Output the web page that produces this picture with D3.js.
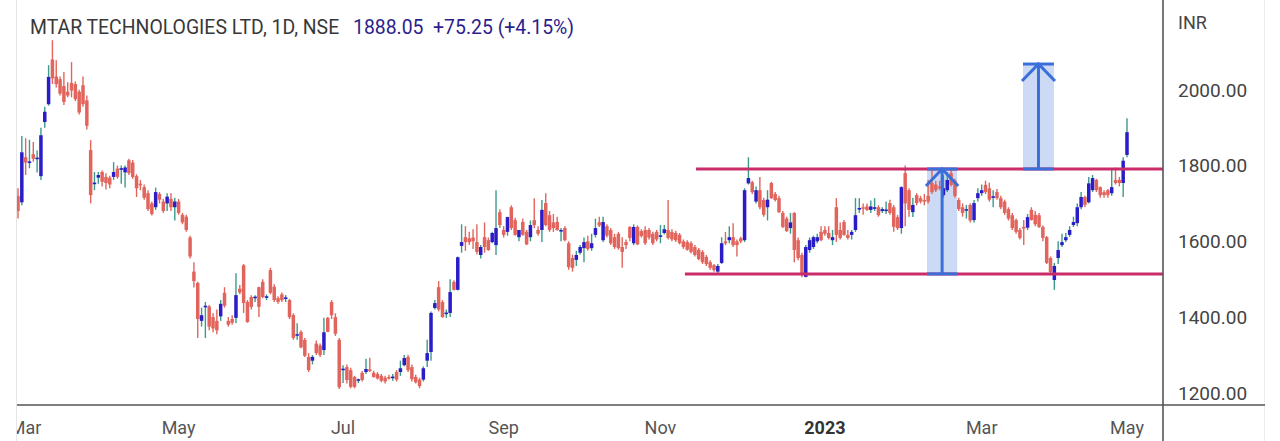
<!DOCTYPE html>
<html><head><meta charset="utf-8">
<script src="https://cdn.jsdelivr.net/npm/d3@7"></script>
<style>html,body{margin:0;padding:0;background:#fff;overflow:hidden}svg{display:block}text{font-family:Roboto,"Noto Sans",sans-serif}</style>
</head><body><svg id="c" width="1280" height="441"></svg>
<script>
const opens=[1720,1703,1822,1808,1830,1818,1772,1915,1962,2080,2035,2028,2010,1995,2018,2015,1995,2012,1972,1841,1752,1768,1783,1770,1768,1770,1792,1790,1782,1814,1808,1772,1752,1743,1727,1700,1690,1725,1705,1700,1712,1690,1705,1670,1665,1610,1520,1490,1390,1427,1428,1400,1390,1402,1464,1390,1395,1398,1475,1537,1440,1453,1450,1479,1493,1453,1524,1480,1450,1460,1450,1445,1405,1353,1361,1340,1295,1285,1330,1325,1313,1398,1440,1400,1340,1262,1268,1260,1242,1232,1253,1255,1262,1253,1250,1245,1240,1242,1240,1255,1255,1273,1295,1268,1242,1235,1235,1285,1308,1424,1479,1440,1410,1411,1493,1472,1588,1611,1608,1610,1598,1564,1611,1603,1598,1590,1677,1630,1625,1690,1656,1611,1651,1625,1611,1656,1630,1630,1701,1669,1650,1651,1627,1635,1595,1556,1551,1570,1582,1600,1582,1617,1650,1603,1640,1630,1611,1620,1585,1598,1638,1595,1638,1627,1630,1630,1620,1625,1614,1622,1630,1625,1622,1617,1600,1598,1595,1585,1578,1572,1559,1545,1537,1520,1543,1600,1603,1611,1600,1608,1603,1753,1756,1705,1735,1709,1690,1754,1725,1714,1675,1660,1635,1675,1603,1564,1506,1577,1585,1600,1625,1630,1622,1603,1690,1630,1651,1617,1617,1630,1685,1690,1692,1683,1688,1690,1680,1682,1701,1690,1664,1635,1780,1735,1677,1722,1714,1709,1720,1754,1750,1745,1722,1735,1780,1760,1709,1690,1683,1696,1656,1714,1727,1749,1740,1717,1730,1714,1705,1685,1669,1656,1630,1638,1636,1683,1670,1669,1638,1611,1556,1498,1556,1590,1603,1617,1643,1648,1690,1717,1703,1735,1762,1743,1730,1735,1727,1762,1762,1754,1828];
const highs=[1740,1878,1872,1868,1862,1840,1900,1955,2065,2131,2078,2035,2047,2020,2073,2022,2000,2035,1985,1867,1783,1783,1787,1780,1773,1809,1800,1800,1800,1818,1815,1777,1762,1750,1735,1705,1742,1730,1712,1727,1727,1715,1712,1675,1670,1615,1545,1493,1425,1440,1432,1410,1420,1445,1479,1400,1405,1516,1485,1540,1445,1458,1458,1480,1500,1460,1530,1487,1455,1465,1458,1448,1410,1384,1365,1345,1305,1300,1338,1330,1398,1400,1445,1410,1345,1273,1275,1266,1245,1238,1258,1290,1293,1258,1255,1250,1245,1248,1250,1260,1285,1300,1300,1275,1248,1240,1270,1340,1415,1445,1495,1445,1420,1500,1497,1560,1645,1640,1625,1632,1645,1590,1650,1610,1625,1735,1685,1640,1665,1695,1662,1630,1660,1630,1655,1714,1640,1709,1727,1680,1672,1665,1635,1640,1600,1565,1575,1590,1610,1615,1620,1660,1665,1665,1645,1635,1620,1625,1611,1605,1640,1645,1642,1632,1640,1635,1625,1630,1643,1643,1709,1632,1628,1622,1605,1603,1600,1590,1582,1577,1564,1550,1540,1540,1611,1625,1640,1648,1605,1612,1740,1822,1760,1745,1770,1715,1735,1757,1730,1720,1680,1665,1675,1677,1610,1570,1590,1610,1615,1620,1640,1640,1640,1630,1714,1650,1656,1630,1630,1714,1714,1700,1700,1708,1714,1695,1690,1705,1710,1696,1670,1745,1800,1740,1715,1727,1720,1725,1762,1788,1760,1760,1775,1783,1788,1765,1715,1700,1696,1700,1709,1740,1750,1760,1755,1735,1738,1720,1710,1690,1675,1660,1635,1656,1672,1690,1680,1675,1642,1614,1560,1543,1600,1620,1622,1640,1665,1700,1730,1720,1770,1775,1765,1745,1735,1738,1790,1795,1770,1822,1925];
const lows=[1660,1695,1775,1793,1810,1782,1762,1900,1958,2015,2006,1985,1960,1980,1980,1970,1935,1955,1895,1700,1735,1752,1745,1737,1740,1762,1765,1752,1742,1775,1765,1717,1735,1710,1680,1668,1683,1700,1675,1680,1680,1655,1670,1645,1625,1555,1478,1345,1375,1345,1365,1360,1355,1390,1425,1375,1380,1384,1460,1411,1385,1420,1440,1400,1450,1445,1460,1440,1435,1440,1440,1395,1340,1340,1318,1295,1255,1275,1300,1295,1300,1360,1395,1350,1210,1226,1225,1212,1212,1226,1230,1250,1255,1240,1235,1228,1225,1235,1232,1230,1245,1270,1255,1230,1225,1212,1230,1268,1285,1420,1415,1398,1398,1400,1470,1470,1570,1575,1590,1580,1565,1555,1570,1575,1595,1564,1635,1610,1615,1630,1615,1600,1615,1590,1600,1635,1615,1598,1640,1625,1625,1628,1600,1600,1525,1520,1535,1565,1545,1575,1575,1610,1638,1598,1610,1590,1580,1578,1530,1580,1600,1590,1590,1610,1590,1605,1590,1600,1595,1618,1605,1600,1598,1592,1580,1575,1568,1560,1550,1540,1535,1525,1520,1513,1540,1590,1595,1585,1560,1595,1598,1750,1725,1700,1685,1665,1655,1712,1705,1675,1635,1625,1620,1545,1550,1505,1505,1570,1580,1595,1600,1615,1605,1590,1598,1605,1615,1605,1605,1625,1675,1670,1680,1675,1680,1665,1675,1672,1670,1625,1630,1620,1640,1665,1664,1695,1700,1695,1700,1725,1730,1735,1715,1730,1745,1715,1680,1665,1660,1650,1650,1705,1720,1725,1705,1690,1710,1685,1670,1655,1630,1620,1605,1590,1630,1655,1640,1635,1600,1540,1515,1472,1540,1585,1598,1612,1638,1640,1685,1690,1700,1730,1730,1715,1715,1715,1720,1750,1745,1717,1822];
const closes=[1680,1835,1808,1811,1818,1821,1880,1942,2034,2030,2015,1990,1968,1985,1998,1975,1940,1962,1905,1722,1755,1775,1757,1754,1750,1783,1770,1793,1795,1780,1770,1740,1750,1715,1685,1672,1730,1710,1680,1718,1690,1705,1675,1650,1630,1560,1495,1395,1405,1430,1375,1370,1365,1435,1430,1380,1385,1458,1465,1437,1387,1427,1454,1427,1453,1455,1464,1445,1440,1445,1452,1400,1345,1355,1320,1298,1260,1295,1305,1300,1360,1361,1405,1356,1215,1264,1234,1216,1216,1236,1234,1263,1258,1242,1238,1232,1230,1241,1243,1235,1265,1292,1260,1236,1228,1218,1265,1305,1411,1437,1420,1400,1412,1466,1472,1558,1598,1598,1598,1600,1572,1585,1585,1577,1622,1635,1643,1617,1664,1635,1617,1630,1617,1592,1643,1643,1620,1683,1643,1630,1635,1630,1630,1603,1532,1530,1564,1585,1598,1580,1595,1635,1642,1651,1615,1595,1585,1582,1572,1590,1609,1638,1592,1614,1595,1610,1595,1605,1616,1632,1609,1605,1603,1595,1585,1578,1572,1564,1553,1545,1540,1530,1524,1535,1595,1595,1611,1590,1590,1600,1735,1767,1730,1735,1690,1670,1710,1714,1709,1677,1638,1627,1650,1577,1556,1516,1585,1603,1611,1611,1603,1620,1609,1611,1617,1609,1617,1609,1625,1669,1688,1688,1683,1692,1690,1669,1685,1684,1675,1638,1635,1743,1700,1683,1696,1701,1705,1707,1705,1730,1735,1740,1740,1762,1749,1720,1685,1675,1685,1655,1701,1727,1735,1730,1710,1719,1714,1690,1675,1660,1635,1625,1609,1636,1664,1656,1645,1638,1609,1543,1519,1535,1577,1598,1611,1630,1651,1690,1717,1696,1753,1767,1735,1722,1722,1722,1743,1754,1754,1812.8,1888.05];

const tickIdx=[2,42,85,127,168,211,252,290];
const tickLab=["Mar","May","Jul","Sep","Nov","2023","Mar","May"];
const yTicks=[1200,1400,1600,1800,2000];
const levelVals=[1791,1514];
const levelFrom=[177.3,174.4];
const boxFrom=[237.7,262.8];
const boxTo=[245.6,270.9];
const boxLo=[1514,1791];
const boxHi=[1791,2068];
const titleText="MTAR TECHNOLOGIES LTD, 1D, NSE";
const lastPrice=1888.05, prevClose=1812.8;

const W=1280,H=441, L=17, R=1163, B=405;
const svg=d3.select("#c");
const x=d3.scaleLinear().domain([0,opens.length-1]).range([18,1127]);
const y=d3.scaleLinear().domain([1168,2237]).range([B,0]);

const defs=svg.append("defs");
defs.append("clipPath").attr("id","pc").append("rect").attr("x",L).attr("y",0).attr("width",R-L).attr("height",B);
defs.append("clipPath").attr("id","xc").append("rect").attr("x",L).attr("y",B).attr("width",R-L).attr("height",H-B);

// faint borders
svg.append("line").attr("x1",16.5).attr("x2",16.5).attr("y1",0).attr("y2",H).attr("stroke","#e6e6e6");
svg.append("line").attr("x1",1264.5).attr("x2",1264.5).attr("y1",0).attr("y2",H).attr("stroke","#ececec");

const plot=svg.append("g").attr("clip-path","url(#pc)");

// projection boxes fill
const boxes=d3.range(boxFrom.length);
plot.selectAll("rect.box").data(boxes).join("rect").attr("class","box")
 .attr("x",i=>x(boxFrom[i])).attr("width",i=>x(boxTo[i])-x(boxFrom[i]))
 .attr("y",i=>y(boxHi[i])).attr("height",i=>y(boxLo[i])-y(boxHi[i]))
 .attr("fill","#3d6fd8").attr("fill-opacity",0.26);

// candles
const idx=d3.range(opens.length);
const up=i=>closes[i]>=opens[i];
const upBody="#2a1cc6", upWick="#3c9a8c", dn="#e2655d";
plot.selectAll("line.w").data(idx).join("line").attr("class","w")
 .attr("x1",i=>x(i)).attr("x2",i=>x(i))
 .attr("y1",i=>y(highs[i])).attr("y2",i=>y(lows[i]))
 .attr("stroke",i=>up(i)?upWick:dn).attr("stroke-width",1.4);
plot.selectAll("rect.b").data(idx).join("rect").attr("class","b")
 .attr("x",i=>x(i)-1.75).attr("width",3.5)
 .attr("y",i=>y(Math.max(opens[i],closes[i])))
 .attr("height",i=>Math.max(1.6,Math.abs(y(opens[i])-y(closes[i]))))
 .attr("fill",i=>up(i)?upBody:dn);

// level lines
plot.selectAll("line.lvl").data(levelVals).join("line").attr("class","lvl")
 .attr("x1",(d,i)=>x(levelFrom[i])).attr("x2",R)
 .attr("y1",d=>y(d)).attr("y2",d=>y(d))
 .attr("stroke","#c92c68").attr("stroke-width",3);

// arrows
const ac="#3a6fd9";
boxes.forEach(i=>{
  const x0=x(boxFrom[i]), x1=x(boxTo[i]), xm=(x0+x1)/2, yt=y(boxHi[i]), yb=y(boxLo[i]);
  const g=plot.append("g").attr("stroke",ac).attr("stroke-width",3).attr("fill","none");
  g.append("line").attr("x1",x0).attr("x2",x1).attr("y1",yt).attr("y2",yt);
  g.append("line").attr("x1",x0).attr("x2",x1).attr("y1",yb).attr("y2",yb);
  g.append("line").attr("x1",xm).attr("x2",xm).attr("y1",yt).attr("y2",yb);
  g.append("polyline").attr("points",`${x0-1},${yt+17} ${xm},${yt} ${x1+1},${yt+17}`);
});

// axes lines
svg.append("line").attr("x1",R).attr("x2",R).attr("y1",0).attr("y2",H).attr("stroke","#555").attr("stroke-width",1.6);
svg.append("line").attr("x1",L).attr("x2",1265).attr("y1",B).attr("y2",B).attr("stroke","#555").attr("stroke-width",1.6);

// y labels
svg.selectAll("text.yl").data(yTicks).join("text").attr("class","yl")
 .attr("x",1178).attr("y",d=>y(d)).attr("dy","0.36em")
 .attr("font-size",19).attr("fill","#444").text(d=>d3.format(".2f")(d));
svg.append("text").attr("x",1178).attr("y",29).attr("font-size",18).attr("fill","#444").text("INR");

// x labels
svg.append("g").attr("clip-path","url(#xc)").selectAll("text.xl").data(tickIdx).join("text").attr("class","xl")
 .attr("x",d=>x(d)).attr("y",434).attr("text-anchor","middle")
 .attr("font-size",18).attr("fill",(d,i)=>tickLab[i]==="2023"?"#333":"#555")
 .attr("font-weight",(d,i)=>tickLab[i]==="2023"?"bold":"normal")
 .text((d,i)=>tickLab[i]);

// title
svg.append("text").attr("x",30).attr("y",34).attr("font-size",19.4).attr("fill","#383838").text(titleText);
const ch=lastPrice-prevClose;
svg.append("text").attr("x",353).attr("y",34).attr("font-size",19.4).attr("fill","#2c1e8c").attr("xml:space","preserve")
 .text(`${d3.format(".2f")(lastPrice)}  +${d3.format(".2f")(ch)} (+${d3.format(".2f")(ch/prevClose*100)}%)`);
</script></body></html>
